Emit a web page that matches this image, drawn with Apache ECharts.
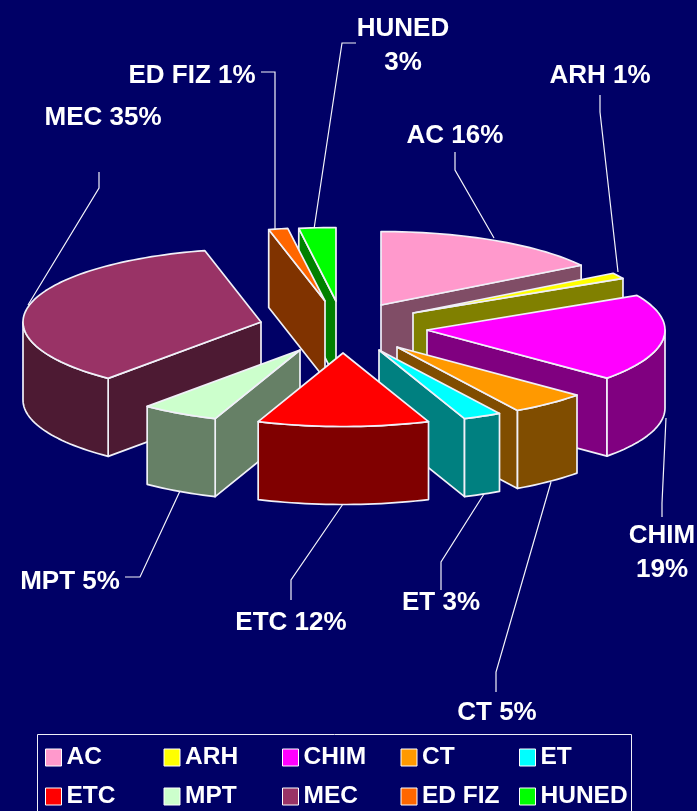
<!DOCTYPE html>
<html><head><meta charset="utf-8">
<style>html,body{margin:0;padding:0;background:#000066}#c{width:697px;height:811px}</style>
<script src="https://cdn.jsdelivr.net/npm/echarts@6/dist/echarts.min.js"></script>
</head><body><div id="c"></div>
<script>
// ---- data ----
const categories = ['AC','ARH','CHIM','CT','ET','ETC','MPT','MEC','ED FIZ','HUNED'];
const shares = [15.9,1.3,19.15,5.2,2.6,11.65,5.3,35.1,1.3,2.5];
const sliceLabels = ['AC 16%','ARH 1%','CHIM\n19%','CT 5%','ET 3%','ETC 12%','MPT 5%','MEC 35%','ED FIZ 1%','HUNED\n3%'];

// ---- styles and layout ----
const topColors = ['#FF99CC','#FFFF00','#FF00FF','#FF9900','#00FFFF','#FF0000','#CCFFCC','#993366','#FF6600','#00FF00'];
const sideColors = ['#804D66','#808000','#800080','#804D00','#008080','#800000','#668066','#4D1A33','#803300','#008000'];
const apexes = [[381,305],[413,313],[427,330],[397,347],[379,350],[343,353],[300,350],[261,322],[325,301],[336,301]];
const drawOrder = [9,8,0,1,2,3,7,6,4,5];
const RX = 238, RY = 73.5, DEPTH = 78;
const EDGE = '#F0F0F8';
const FONT = '"Liberation Sans"';
const labelAnchors = [[455,136],[600,76],[662,553],[497,713],[441,603],[291,623],[70,582],[103,118],[192,76],[403,46]];
const leaders = [
 [[455,152],[455,170],[494,238]],
 [[600,95],[600,112],[618,272]],
 [[662,517],[662,503],[666,418]],
 [[496,692],[496,672],[551,482]],
 [[441,590],[441,562],[484,494]],
 [[291,600],[291,580],[343,504]],
 [[125,577],[140,577],[180,491]],
 [[99,172],[99,188],[28,305]],
 [[261,72],[275,72],[275,231]],
 [[356,43],[342,43],[314,229]]
];

const cumulative = [];
shares.reduce((sum, v, i) => { cumulative[i] = [sum, sum + v]; return sum + v; }, 0);
const total = shares.reduce((a, b) => a + b, 0);

function makeRender(idx) {
  return function (params, api) {
    const a0 = api.value(0) / total * Math.PI * 2;
    const a1 = api.value(1) / total * Math.PI * 2;
    const [cx, cy] = apexes[idx];
    const pt = (a, d) => api.coord([cx + RX * Math.sin(a), cy - RY * Math.cos(a) + (d || 0)]);
    const apexTop = api.coord([cx, cy]);
    const apexBot = api.coord([cx, cy + DEPTH]);
    const arc = (s, e, d) => {
      const n = Math.max(2, Math.ceil((e - s) / 0.03)), out = [];
      for (let i = 0; i <= n; i++) out.push(pt(s + (e - s) * i / n, d));
      return out;
    };
    const face = (points, fill) => ({
      type: 'polygon', shape: { points },
      style: { fill, stroke: EDGE, lineWidth: 1.7, lineJoin: 'round' }
    });
    const children = [];
    if (Math.sin(a0) < -1e-6) children.push(face([apexTop, pt(a0), pt(a0, DEPTH), apexBot], sideColors[idx]));
    if (Math.sin(a1) > 1e-6) children.push(face([apexTop, pt(a1), pt(a1, DEPTH), apexBot], sideColors[idx]));
    const wS = Math.max(a0, Math.PI / 2), wE = Math.min(a1, Math.PI * 1.5);
    if (wE > wS) children.push(face(arc(wS, wE, 0).concat(arc(wS, wE, DEPTH).reverse()), sideColors[idx]));
    children.push(face([apexTop].concat(arc(a0, a1, 0)), topColors[idx]));
    return { type: 'group', children };
  };
}

const series = categories.map((name, i) => ({
  type: 'custom', name, coordinateSystem: 'cartesian2d',
  renderItem: makeRender(i),
  data: [cumulative[i]],
  encode: { x: 0, y: 1 },
  clip: false, silent: true, animation: false,
  z: 2 + drawOrder.indexOf(i),
  itemStyle: { color: topColors[i] }
}));

const graphicEls = [{
  type: 'rect', shape: { x: 37.5, y: 734.5, width: 594, height: 90 }, z: 1,
  style: { fill: null, stroke: '#F0F0F8', lineWidth: 1 }
}];
leaders.forEach(points => graphicEls.push({
  type: 'polyline', shape: { points }, z: 1,
  style: { stroke: '#F4F4FA', lineWidth: 1.2, fill: null }
}));
sliceLabels.forEach((t, i) => graphicEls.push({
  type: 'text', x: labelAnchors[i][0], y: labelAnchors[i][1], z: 30,
  style: { text: t, fill: '#fff', font: 'bold 26px ' + FONT, align: 'center', verticalAlign: 'middle', lineHeight: 34 }
}));

const chart = echarts.init(document.getElementById('c'), null, { renderer: 'canvas' });
chart.setOption({
  backgroundColor: '#000066',
  animation: false,
  grid: { left: 0, right: 0, top: 0, bottom: 0 },
  xAxis: { type: 'value', min: 0, max: 697, show: false },
  yAxis: { type: 'value', min: 0, max: 811, inverse: true, show: false },
  legend: {
    left: 45, top: 738, width: 594,
    padding: 0, itemGap: 0, itemWidth: 16, itemHeight: 17,
    icon: 'rect', selectedMode: false, orient: 'horizontal',
    itemStyle: { borderColor: '#fff', borderWidth: 1 },
    textStyle: { color: '#fff', fontFamily: FONT, fontWeight: 'bold', fontSize: 24.5, width: 97, height: 39, lineHeight: 39, padding: 0, overflow: 'none' },
    data: categories
  },
  series,
  graphic: { elements: graphicEls }
});
</script></body></html>
